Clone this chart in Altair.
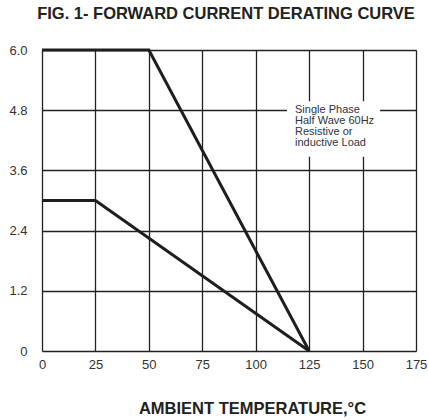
import altair as alt
import pandas as pd

# Derating curves (ambient temperature in °C, average forward current in A)
curve_a_temp = [0, 50, 125]
curve_a_current = [6.0, 6.0, 0.0]
curve_b_temp = [0, 25, 125]
curve_b_current = [3.0, 3.0, 0.0]

x_ticks = [0, 25, 50, 75, 100, 125, 150, 175]
y_ticks = [0, 1.2, 2.4, 3.6, 4.8, 6.0]

note_lines = ["Single Phase", "Half Wave 60Hz", "Resistive or", "inductive Load"]
note_box_x = [114.6]
note_box_x2 = [158.2]
note_box_y = [3.87]
note_box_y2 = [4.98]
note_text_x = [118.4]
note_text_y = [4.92]

FONT = "Liberation Sans"

curves = pd.concat([
    pd.DataFrame({"temp": curve_a_temp, "current": curve_a_current, "curve": "A"}),
    pd.DataFrame({"temp": curve_b_temp, "current": curve_b_current, "curve": "B"}),
], ignore_index=True)

xscale = alt.Scale(domain=[0, 175], nice=False, zero=False)
yscale = alt.Scale(domain=[0, 6], nice=False, zero=False)

xaxis = alt.Axis(
    values=x_ticks, grid=True, gridColor="#222222", gridWidth=1.3,
    domain=False, ticks=False, labelFontSize=13, labelColor="#333333",
    labelFont=FONT, labelPadding=7, labelFlush=False,
    title="AMBIENT TEMPERATURE,°C", titleFont=FONT, titleFontSize=16.5,
    titleFontWeight="bold", titleColor="#222222", titleX=210, titleY=62,
    titleAlign="center", titleBaseline="alphabetic",
)
yaxis = alt.Axis(
    values=y_ticks, grid=True, gridColor="#222222", gridWidth=1.3,
    domain=False, ticks=False, labelFontSize=13, labelColor="#333333",
    labelFont=FONT, labelPadding=15, labelFlush=False,
    labelExpr="datum.value == 0 ? '0' : format(datum.value, '.1f')",
    title=None,
)

lines = alt.Chart(curves).mark_line(color="#1e1e1e", strokeWidth=3, clip=False).encode(
    x=alt.X("temp:Q", scale=xscale, axis=xaxis),
    y=alt.Y("current:Q", scale=yscale, axis=yaxis),
    detail="curve:N",
)

box_df = pd.DataFrame({"x": note_box_x, "x2": note_box_x2, "y": note_box_y, "y2": note_box_y2})
box = alt.Chart(box_df).mark_rect(fill="white", stroke=None).encode(
    x=alt.X("x:Q", scale=xscale), x2="x2", y=alt.Y("y:Q", scale=yscale), y2="y2"
)

text_df = pd.DataFrame({"x": note_text_x, "y": note_text_y, "t": ["\n".join(note_lines)]})
note = alt.Chart(text_df).mark_text(
    align="left", baseline="top", lineBreak="\n", lineHeight=11,
    fontSize=11, font=FONT, color="#2f3440",
).encode(x=alt.X("x:Q", scale=xscale), y=alt.Y("y:Q", scale=yscale), text="t:N")

chart = alt.layer(box, lines, note).properties(
    width=374, height=301,
    title=alt.TitleParams(
        "FIG. 1- FORWARD CURRENT DERATING CURVE", font=FONT, fontSize=16.5,
        fontWeight="bold", color="#222222", anchor="middle", frame="group",
        baseline="alphabetic", offset=9, dx=-3,
    ),
    autosize=alt.AutoSizeParams(type="none"),
    padding={"left": 42, "top": 50, "right": 12, "bottom": 69},
).configure_view(stroke="#1e1e1e", strokeWidth=2).configure(background="white")

chart.save("out.html", embed_options={"renderer": "svg", "actions": False})
